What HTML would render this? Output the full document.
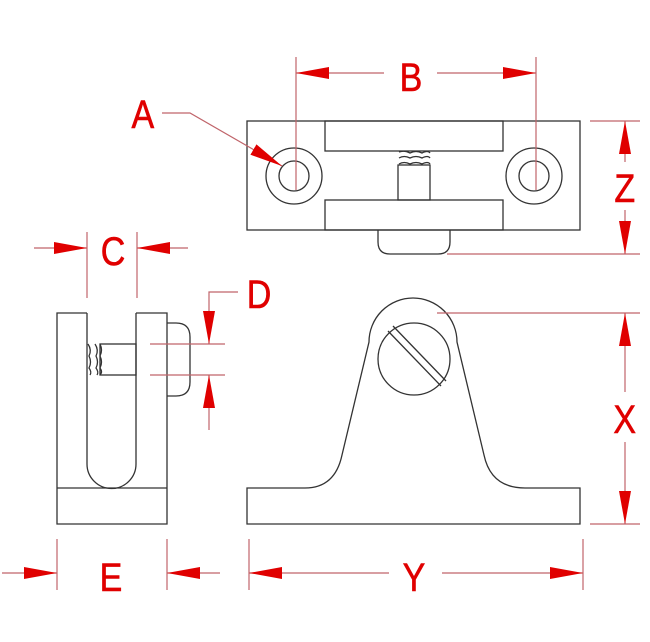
<!DOCTYPE html>
<html><head><meta charset="utf-8"><style>
html,body{margin:0;padding:0;background:#fff;}
svg{display:block;}
text{font-family:"Liberation Sans",sans-serif;fill:#e00000;font-size:40px;text-anchor:middle;stroke:#e00000;stroke-width:0.6;}
</style></head><body>
<svg width="650" height="642" viewBox="0 0 650 642" xmlns="http://www.w3.org/2000/svg">
<defs>
<marker id="ar" viewBox="0 0 33 12" refX="33" refY="6" markerWidth="33" markerHeight="12" markerUnits="userSpaceOnUse" orient="auto"><path d="M0,0 L33,6 L0,12 Z" fill="#e00000"/></marker>
</defs>
<g fill="none" stroke="#333" stroke-width="1.3">
<!-- top view -->
<rect x="247" y="121" width="333" height="109"/>
<rect x="325" y="121" width="178" height="30"/>
<rect x="325" y="200" width="178" height="30"/>
<circle cx="294" cy="176" r="28"/><circle cx="294" cy="176" r="15"/>
<circle cx="534" cy="176" r="28"/><circle cx="534" cy="176" r="15"/>
<rect x="398" y="165" width="32" height="35"/>
<path d="M399,152 Q404,150 410,153 Q416,150 422,153 Q428,150 430,153 M399,158 Q404,155 410,158 Q416,155 422,158 Q428,155 430,158 M399,164 Q404,161 410,164 Q416,161 422,164 Q428,161 430,164"/>
<path d="M378,230 V242 Q378,254 390,254 H438 Q450,254 450,242 V230"/>
<!-- side view -->
<path d="M87,313 H57 V524 H167 V313 H136"/>
<line x1="57" y1="488" x2="167" y2="488"/>
<path d="M87,313 V464 A24.5,24.5 0 0 0 136,464 V313"/>
<rect x="100" y="344" width="36" height="31"/>
<path d="M88,344 Q92,350 89,356 Q92,362 89,368 Q92,372 90,375 M95,344 Q99,350 96,356 Q99,362 96,368 Q99,372 97,375 M100,344 Q103,350 100,356 Q103,362 100,368 Q103,372 100,375"/>
<path d="M167,323 H176 Q190,323 190,337 V382 Q190,396 176,396 H167"/>
<!-- front view -->
<path d="M247,488 H305 Q335,488 342,455 L369,342 A44,44 0 0 1 457,342 L484,455 Q491,488 525,488 H580 V524 H247 Z"/>
<circle cx="414" cy="359" r="36"/>
<line x1="388" y1="331" x2="441" y2="386"/>
<line x1="393" y1="326" x2="446" y2="381"/>
</g>
<g stroke="#c0646a" stroke-width="1.2" fill="none">
<!-- B -->
<line x1="296" y1="57" x2="296" y2="190"/>
<line x1="536" y1="57" x2="536" y2="190"/>
<line x1="384" y1="73" x2="296" y2="73" marker-end="url(#ar)"/>
<line x1="437" y1="73" x2="536" y2="73" marker-end="url(#ar)"/>
<!-- A -->
<polyline points="162,113 190,113 282,166" marker-end="url(#ar)"/>
<!-- Z -->
<line x1="590" y1="121" x2="640" y2="121"/>
<line x1="447" y1="254" x2="640" y2="254"/>
<line x1="625" y1="162" x2="625" y2="121" marker-end="url(#ar)"/>
<line x1="625" y1="210" x2="625" y2="254" marker-end="url(#ar)"/>
<!-- X -->
<line x1="437" y1="313" x2="640" y2="313"/>
<line x1="590" y1="524" x2="640" y2="524"/>
<line x1="625" y1="392" x2="625" y2="313" marker-end="url(#ar)"/>
<line x1="625" y1="442" x2="625" y2="524" marker-end="url(#ar)"/>
<!-- C -->
<line x1="87" y1="232" x2="87" y2="298"/>
<line x1="137" y1="232" x2="137" y2="298"/>
<line x1="34" y1="248" x2="87" y2="248" marker-end="url(#ar)"/>
<line x1="188" y1="248" x2="137" y2="248" marker-end="url(#ar)"/>
<!-- D -->
<line x1="150" y1="344" x2="225" y2="344"/>
<line x1="150" y1="375" x2="225" y2="375"/>
<polyline points="238,292 209,292 209,344" marker-end="url(#ar)"/>
<line x1="209" y1="430" x2="209" y2="375" marker-end="url(#ar)"/>
<!-- E -->
<line x1="57" y1="539" x2="57" y2="590"/>
<line x1="167" y1="539" x2="167" y2="590"/>
<line x1="2" y1="573" x2="57" y2="573" marker-end="url(#ar)"/>
<line x1="220" y1="573" x2="167" y2="573" marker-end="url(#ar)"/>
<!-- Y -->
<line x1="249" y1="539" x2="249" y2="590"/>
<line x1="583" y1="539" x2="583" y2="590"/>
<line x1="389" y1="573" x2="249" y2="573" marker-end="url(#ar)"/>
<line x1="442" y1="573" x2="583" y2="573" marker-end="url(#ar)"/>
</g>
<g transform="scale(0.85,1)">
<text x="483.5" y="91">B</text>
<text x="168" y="128">A</text>
<text x="735" y="202">Z</text>
<text x="133" y="265">C</text>
<text x="304.7" y="308">D</text>
<text x="735" y="433">X</text>
<text x="130.6" y="591">E</text>
<text x="487" y="591">Y</text>
</g>
</svg>
</body></html>
